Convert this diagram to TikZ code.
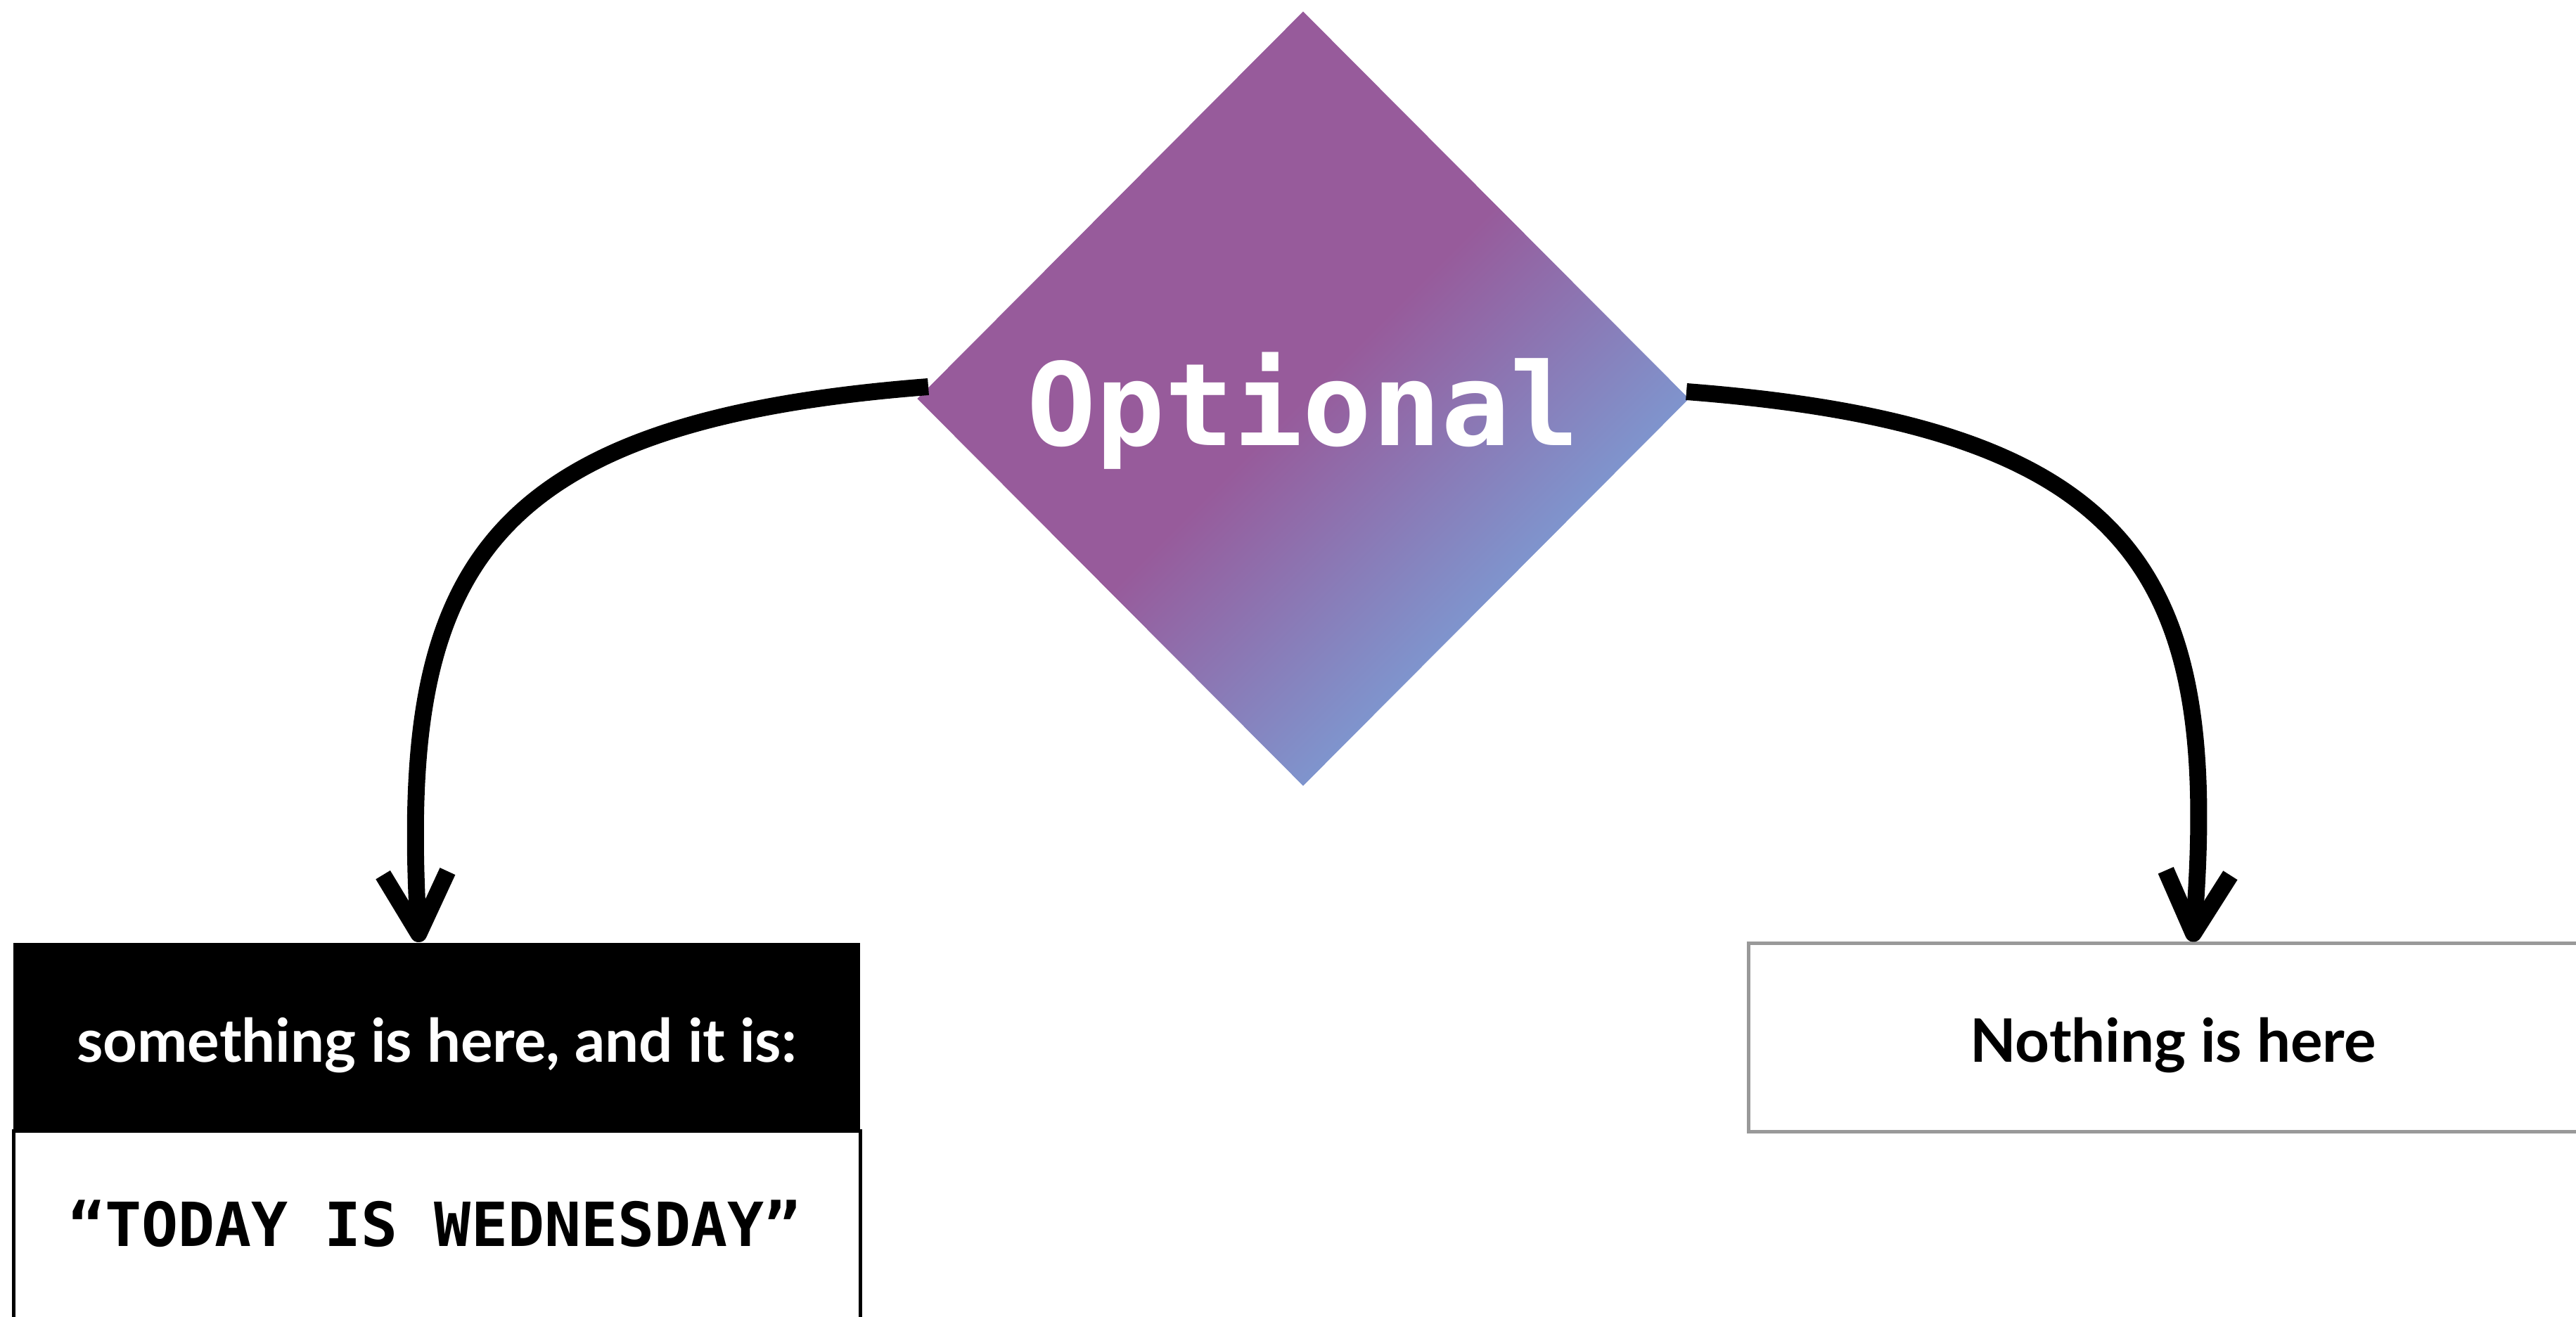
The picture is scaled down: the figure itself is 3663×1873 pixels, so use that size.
\documentclass[tikz,border=0pt]{standalone}
\usepackage{fontspec}
\usetikzlibrary{shapes.geometric,arrows.meta}
\newfontfamily\latofont{Lato}
\newfontfamily\dejamono{DejaVu Sans Mono}
\definecolor{optpurple}{RGB}{151,91,155}
\definecolor{optblue}{RGB}{127,148,205}
\definecolor{boxgray}{RGB}{153,153,153}
\pgfdeclarehorizontalshading{optshade}{100bp}{color(0bp)=(optpurple); color(50bp)=(optpurple); color(67.7bp)=(optblue); color(100bp)=(optblue)}
\tikzset{
  conn/.style={line width=4.8pt, -{Straight Barb[length=17.3pt,width=18.4pt,line join=round,line cap=butt]}},
  optdiamond/.style={diamond, aspect=1, inner sep=0pt, minimum width=219.6pt, minimum height=220.4pt, shading=optshade, shading angle=-45, draw=none},
  blackbox/.style={rectangle, inner sep=0pt, fill=black, draw=none, minimum width=240.8pt, minimum height=53.6pt},
  whitebox/.style={rectangle, inner sep=0pt, fill=white, draw=black, line width=1pt, minimum width=240.8pt, minimum height=54.2pt},
  graybox/.style={rectangle, inner sep=0pt, fill=white, draw=boxgray, line width=1pt, minimum width=241.6pt, minimum height=53.4pt},
  labeltext/.style={anchor=base, inner sep=0pt, font=\latofont\bfseries\fontsize{17.05pt}{20pt}\selectfont},
  monotext/.style={anchor=base, inner sep=0pt, font=\dejamono\bfseries\fontsize{17.3pt}{20pt}\selectfont},
}
\begin{document}
\begin{tikzpicture}[x=0.2pt,y=-0.2pt]
\useasboundingbox (0,0) rectangle (3663,1873);
\clip (0,0) rectangle (3663,1873);
% diamond
\node[optdiamond] (opt) at (1853,567) {};
\node[anchor=base, inner sep=0pt, text=white, font=\dejamono\bfseries\fontsize{32.6pt}{36pt}\selectfont] (opttext) at (1853,634) {Optional};
% left boxes
\node[blackbox] (something) at (621,1475) {};
\node[labeltext, text=white] (somethingtext) at (621,1511) {something is here, and it is:};
\node[whitebox] (value) at (621.5,1744) {};
\node[monotext, text=black] (valuetext) at (618,1772) {“TODAY IS WEDNESDAY”};
% right box
\node[graybox] (nothing) at (3090,1475.5) {};
\node[labeltext, text=black] (nothingtext) at (3090,1511) {Nothing is here};
% connectors
\draw[conn] ([xshift=3.4pt,yshift=3.4pt]opt.west) .. controls (673,600) and (567,819) .. ([xshift=-5pt]something.north);
\draw[conn] ([xshift=-1pt,yshift=2pt]opt.east) .. controls (3045,607) and (3158,820) .. ([xshift=5.6pt]nothing.north);
\end{tikzpicture}
\end{document}
